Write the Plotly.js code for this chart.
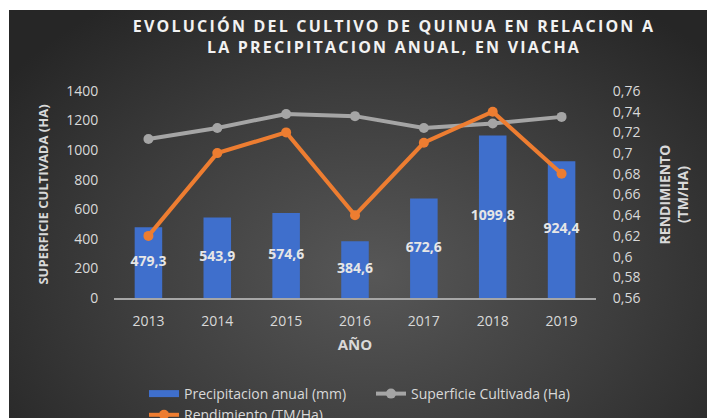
<!DOCTYPE html>
<html><head><meta charset="utf-8">
<script src="https://cdn.plot.ly/plotly-3.0.1.min.js"></script>
<style>
html,body{margin:0;padding:0;background:#fff;overflow:hidden;width:707px;height:418px}
#chart{position:absolute;left:9px;top:10px;width:698px;height:440px;
background:radial-gradient(ellipse 65% 75% at 52% 60%, #575757 0%, #3d3d3d 55%, #262626 100%);}
.gtitle{letter-spacing:2.2px}
</style></head><body><div id="chart"></div>
<script>
const years = ['2013','2014','2015','2016','2017','2018','2019'];
const precipitacion = [479.3, 543.9, 574.6, 384.6, 672.6, 1099.8, 924.4];
const precipLabels = ['479,3','543,9','574,6','384,6','672,6','1099,8','924,4'];
const superficie = [1075, 1150, 1245, 1230, 1150, 1180, 1225];
const rendimiento = [0.62, 0.70, 0.72, 0.64, 0.71, 0.74, 0.68];

const txt = '#d9d9d9';
const FONT = 'Open Sans, sans-serif';

const traces = [
  {type:'bar', x:years, y:precipitacion, name:'Precipitacion anual (mm)', showlegend:false,
   marker:{color:'#3f6fcc'}, hoverinfo:'skip'},
  {type:'scatter', mode:'lines', x:[years[0]], y:[null], name:'Precipitacion anual (mm)',
   line:{color:'#3f6fcc', width:7}, hoverinfo:'skip'},
  {type:'scatter', mode:'lines+markers', x:years, y:superficie, name:'Superficie Cultivada (Ha)',
   line:{color:'#a5a5a5', width:4}, marker:{color:'#a5a5a5', size:10}},
  {type:'scatter', mode:'lines+markers', x:years, y:rendimiento, name:'Rendimiento (TM/Ha)', yaxis:'y2',
   line:{color:'#ed7d31', width:4}, marker:{color:'#ed7d31', size:10}},
  {type:'scatter', mode:'text', x:years, y:precipitacion.map(v => v/2), text:precipLabels, showlegend:false,
   textfont:{family:FONT, size:14, color:'#e6e6e6', weight:'bold'}, hoverinfo:'skip'}
];

const layout = {
  width:698, height:440,
  paper_bgcolor:'rgba(0,0,0,0)', plot_bgcolor:'rgba(0,0,0,0)',
  separators:',.',
  margin:{l:104.5, r:110.5, t:81, b:152},
  font:{family:FONT, size:14, color:txt},
  title:{text:'EVOLUCIÓN DEL CULTIVO DE QUINUA EN RELACION A<br>LA PRECIPITACION ANUAL, EN VIACHA',
    font:{family:FONT, size:16, color:'#f2f2f2', weight:'bold'},
    xref:'container', x:385/698, xanchor:'center', yref:'container', y:1-22/440, yanchor:'middle'},
  bargap:0.6,
  xaxis:{type:'category', showline:true, linecolor:'#a6a6a6', linewidth:1.5, showgrid:false, zeroline:false,
    ticks:'outside', ticklen:10, tickcolor:'rgba(0,0,0,0)', tickfont:{size:14, color:txt},
    title:{text:'AÑO', font:{size:15, weight:'bold', color:txt}, standoff:10}},
  yaxis:{range:[0,1400], dtick:200, showgrid:false, zeroline:false, showline:false,
    ticks:'outside', ticklen:12, tickcolor:'rgba(0,0,0,0)', tickfont:{size:14, color:txt},
    title:{text:'SUPERFICIE CULTIVADA (HA)', font:{size:13, weight:'bold', color:txt}, standoff:14}},
  yaxis2:{range:[0.56,0.76], dtick:0.02, overlaying:'y', side:'right', showgrid:false, zeroline:false, showline:false,
    ticks:'outside', ticklen:13, tickcolor:'rgba(0,0,0,0)', tickfont:{size:14, color:txt},
    title:{text:'RENDIMIENTO<br>(TM/HA)', font:{size:14, weight:'bold', color:txt}, standoff:20}},
  legend:{orientation:'h', xref:'container', yref:'container', x:135/698, xanchor:'left', y:1-368/440, yanchor:'top',
    font:{size:14, color:txt}, bgcolor:'rgba(0,0,0,0)', entrywidth:182, traceorder:'normal'},
  showlegend:true
};

Plotly.newPlot('chart', traces, layout, {displayModeBar:false, staticPlot:true});
</script></body></html>
